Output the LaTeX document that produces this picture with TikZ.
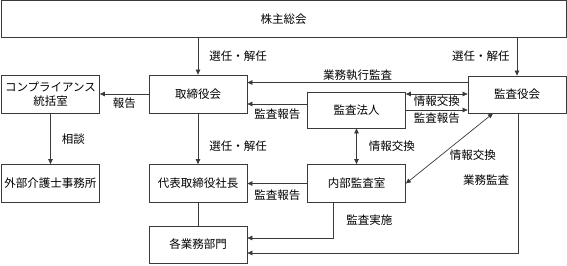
\documentclass[tikz,border=0pt]{standalone}
\usepackage{fontspec}
\setmainfont{Noto Sans CJK JP}
\usetikzlibrary{arrows.meta,positioning}
\definecolor{orgLine}{HTML}{3A3A3A}

\begin{document}
\begin{tikzpicture}[
  x=1pt,y=-1pt,
  >={Triangle[length=5pt,width=4.5pt]},
  every node/.style={font=\fontsize{11.5}{13.5}\selectfont},
  orgbox/.style={draw=orgLine,line width=.75pt,minimum width=98pt,minimum height=38pt,inner sep=0pt,align=center},
  link/.style={->,line width=.7pt,draw=orgLine},
  both/.style={<->,line width=.7pt,draw=orgLine},
  plain/.style={line width=.7pt,draw=orgLine},
  lbl/.style={inner sep=0pt,text=black}
]
\useasboundingbox (0,0) rectangle (567,265);

% 上段
\node[orgbox,minimum width=565pt,minimum height=36.5pt] (meeting) at (283.5,18.75) {株主総会};

\node[orgbox] (comp) at (50.5,94) {コンプライアンス\\統括室};
\node[orgbox] (board) at (198,94) {取締役会};
\node[orgbox,minimum height=37pt] (kansa) at (517,94.5) {監査役会};
\node[orgbox,minimum height=36pt] (houjin) at (356.5,110) {監査法人};

% 下段
\node[orgbox] (lawyer) at (50.5,183.5) {外部介護士事務所};
\node[orgbox] (president) at (198,183.5) {代表取締役社長};
\node[orgbox] (naibu) at (356.5,183.5) {内部監査室};
\node[orgbox,minimum height=37pt] (bumon) at (198,244.5) {各業務部門};

% 選任・解任
\draw[link] (meeting.south -| board.north) -- node[lbl,midway,right=11pt]{選任・解任} (board.north);
\draw[link] (meeting.south -| kansa.north) -- node[lbl,midway,left=7pt]{選任・解任} (kansa.north);
\draw[link] (board) -- node[lbl,pos=.65,right=11pt]{選任・解任} (president);
\draw[plain] (president) -- (bumon);

% コンプライアンス
\draw[link] (board.west) -- node[lbl,below=3pt]{報告} (comp.east);
\draw[link] (comp) -- node[lbl,midway,right=11pt]{相談} (lawyer);

% 監査の流れ
\draw[link] ([yshift=12pt]kansa.west) -- node[lbl,above=2pt]{業務執行監査} ([yshift=12pt]kansa.west -| board.east);
\draw[link] ([yshift=6pt]houjin.west) -- node[lbl,below=4pt]{監査報告} ([yshift=6pt]houjin.west -| board.east);
\draw[both] ([yshift=16pt]houjin.east) -- node[lbl,below=1pt]{情報交換} ([yshift=16pt]houjin.east -| kansa.west);
\draw[link] (houjin.east) -- node[lbl,below=2pt]{監査報告} (houjin.east -| kansa.west);
\draw[both] (houjin) -- node[lbl,midway,right=12pt]{情報交換} (naibu);
\draw[both] (naibu.east) -- node[lbl,midway,below right=1pt and 0pt]{情報交換} ([xshift=-24pt]kansa.south);
\draw[link] (naibu.west) -- node[lbl,below=6pt]{監査報告} (president.east);
\draw[link] ([xshift=-23.5pt]naibu.south) |- node[lbl,pos=.25,right=13pt]{監査実施} ([yshift=6.5pt]bumon.east);
\draw[link] ([xshift=1pt]kansa.south) |- node[lbl,pos=.24,left=8.5pt]{業務監査} ([yshift=-8.5pt]bumon.east);
\end{tikzpicture}
\end{document}
